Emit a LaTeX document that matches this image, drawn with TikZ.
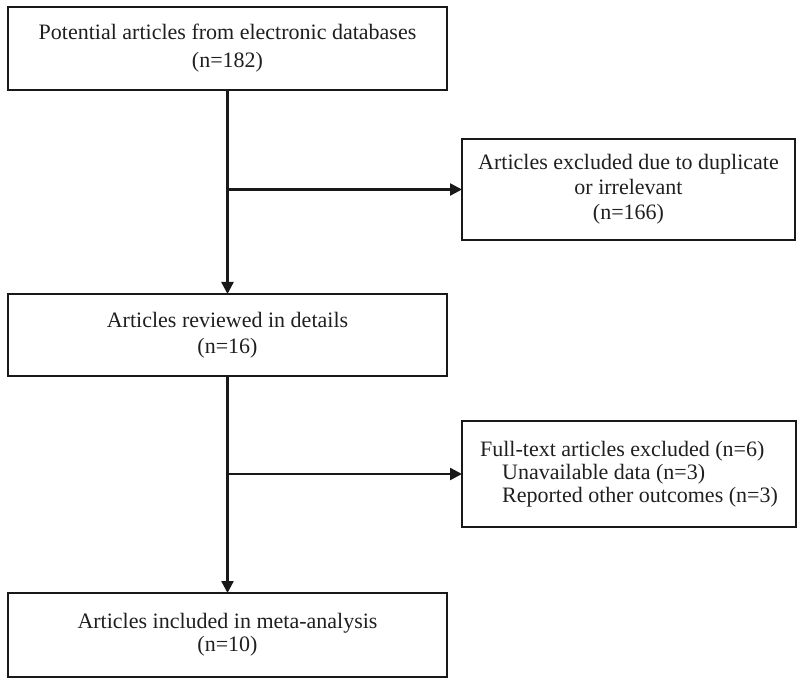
\documentclass[tikz,border=0pt]{standalone}
\usepackage{fontspec}
\setmainfont{Liberation Serif}
\usetikzlibrary{arrows.meta}
\begin{document}
\begin{tikzpicture}[x=1pt,y=-1pt,
  box/.style={draw=black!90,line width=2.4pt,inner sep=0pt,outer sep=0pt,align=center,
    text=black!88,font=\fontsize{22}{25}\selectfont},
  flow/.style={draw=black!90,line width=2.4pt,-{Triangle[length=12pt,width=12pt]}}]
\useasboundingbox (0,0) rectangle (800,684);
\node[box,minimum width=439pt,minimum height=83pt,font=\fontsize{22}{28}\selectfont] (b1) at (227.5,48.5)
  {Potential articles from electronic databases\\(n=182)};
\node[box,minimum width=333pt,minimum height=101pt] (b2) at (628.5,189.5)
  {Articles excluded due to duplicate\\or irrelevant\\(n=166)};
\node[box,minimum width=439pt,minimum height=82pt,font=\fontsize{22}{26}\selectfont] (b3) at (227.5,335)
  {Articles reviewed in details\\(n=16)};
\node[box,minimum width=334pt,minimum height=106pt,align=left,font=\fontsize{22}{23}\selectfont] (b4) at (629,474)
  {Full-text articles excluded (n=6)\\\hspace*{22pt}Unavailable data (n=3)\\\hspace*{22pt}Reported other outcomes (n=3)};
\node[box,minimum width=439pt,minimum height=84pt,font=\fontsize{22}{23}\selectfont] (b5) at (227.5,635)
  {Articles included in meta-analysis\\(n=10)};
\coordinate (j1) at (227.5,189.5);
\coordinate (j2) at (227.5,474);
\draw[flow] (b1.south) -- (b3.north);
\draw[flow] (j1) -- (b2.west);
\draw[flow] (b3.south) -- (b5.north);
\draw[flow] (j2) -- (b4.west);
\end{tikzpicture}
\end{document}
